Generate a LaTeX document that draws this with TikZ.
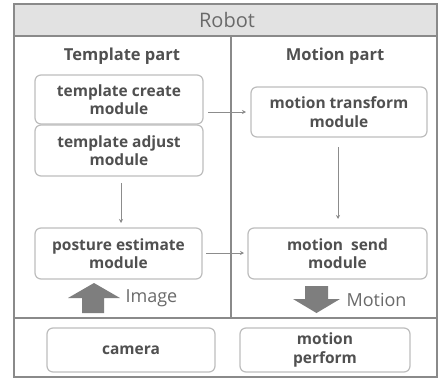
\documentclass[tikz,border=0pt]{standalone}
\usepackage{fontspec}
\setmainfont{Open Sans}
\usetikzlibrary{arrows.meta,calc}
\definecolor{frame}{HTML}{8A8A8A}
\definecolor{band}{HTML}{E2E2E2}
\definecolor{boxline}{HTML}{BDBDBD}
\definecolor{txt}{HTML}{505050}
\definecolor{lbl}{HTML}{6A6A6A}
\definecolor{blk}{HTML}{7E7E7E}
\definecolor{arr}{HTML}{8C8C8C}
\tikzset{
  px/.style={x=1pt,y=-1pt},
  modbox/.style={draw=boxline, line width=1.2pt, rounded corners=6pt, fill=white},
  modtext/.style={text=txt, font=\bfseries\fontsize{15.5}{18.5}\selectfont, align=center},
  parttext/.style={text=txt, font=\bfseries\fontsize{16.5}{18}\selectfont},
  flow/.style={draw=arr, line width=0.9pt, -{Stealth[length=4pt,width=4pt]}},
  blockarrow/.style={fill=blk, draw=none},
  sidelabel/.style={text=lbl, font=\fontsize{18}{20}\selectfont, anchor=west}
}
\begin{document}
\begin{tikzpicture}[px]
\useasboundingbox (0,0) rectangle (438,380);
% outer frame and title band
\fill[white] (0,0) rectangle (438,380);
\filldraw[fill=band, draw=frame, line width=1.2pt] (14,4) rectangle (437,36);
\draw[frame, line width=1.2pt] (14,36) rectangle (437,377);
\draw[frame, line width=1.2pt] (231,36) -- (231,318);
\draw[frame, line width=1.2pt] (14,318) -- (437,318);
\node[text=lbl, font=\fontsize{20}{22}\selectfont] (title) at (227,20) {Robot};
\node[parttext] (tpart) at (122,56) {Template part};
\node[parttext] (mpart) at (335,56) {Motion part};
% modules
\draw[modbox] (35,75) rectangle (203,124);
\node[modtext] (tc) at (119,99.5) {template create\\module};
\draw[modbox] (35,125) rectangle (203,176);
\node[modtext] (ta) at (119,150.5) {template adjust\\module};
\draw[modbox] (251,87) rectangle (427,137);
\node[modtext] (mt) at (339,112) {motion transform\\module};
\draw[modbox] (35,228) rectangle (202,279);
\node[modtext] (pe) at (118.5,253.5) {posture estimate\\module};
\draw[modbox] (248,228) rectangle (427,279);
\node[modtext] (ms) at (337.5,253.5) {motion\ \ send\\module};
\draw[modbox] (47,328) rectangle (215,372);
\node[modtext] (cam) at (131,350) {camera};
\draw[modbox] (240,328) rectangle (410,372);
\node[modtext] (mp) at (325,350) {motion\\perform};
% coordinates for connectors
\coordinate (tcE) at (208,112);
\coordinate (mtW) at (246,112);
\coordinate (taS) at (121,183);
\coordinate (peN) at (121,223);
\coordinate (mtS) at (338,147);
\coordinate (msN) at (338,219);
\coordinate (peE) at (206,253);
\coordinate (msW) at (244,253);
\draw[flow] (tcE) -- (mtW);
\draw[flow] (taS) -- (peN);
\draw[flow] (mtS) -- (msN);
\draw[flow] (peE) -- (msW);
% block arrows
\fill[blockarrow] (82,313) -- (82,298) -- (68,298) -- (94,283) -- (120,298) -- (104,298) -- (104,313) -- cycle;
\fill[blockarrow] (305,286) -- (305,299) -- (293,299) -- (316.5,313) -- (340,299) -- (328,299) -- (328,286) -- cycle;
\node[sidelabel] (img) at (122,298) {Image};
\node[sidelabel] (mot) at (343,300) {Motion};
\end{tikzpicture}
\end{document}
